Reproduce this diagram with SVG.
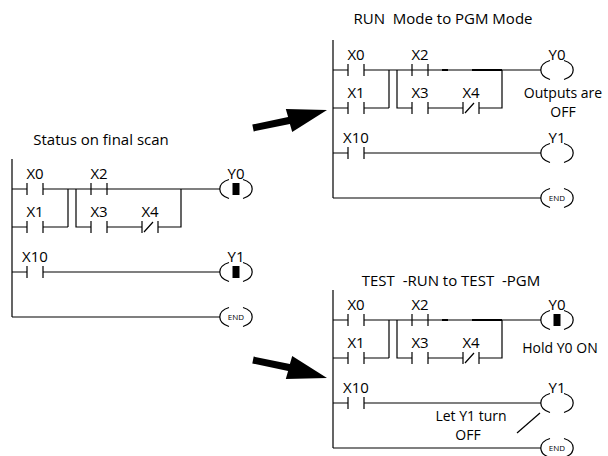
<svg xmlns="http://www.w3.org/2000/svg" width="608" height="456" viewBox="0 0 608 456">
<style>
.w{fill:none;stroke:#000;stroke-width:1.2}
.wd{fill:none;stroke:#000;stroke-width:2.2}
.t{font-family:"Open Sans","Noto Sans",sans-serif;font-size:15px;fill:#000;text-anchor:middle}
.n{font-family:"Open Sans","Noto Sans",sans-serif;font-size:14px;fill:#000;text-anchor:middle}
.e{font-family:"Open Sans","Noto Sans",sans-serif;font-size:8px;fill:#000;text-anchor:middle}
.ar{fill:#000}
</style>
<defs>
<path id="coil" class="w" d="M217 -9.5 A16 10.5 0 0 0 217 9.5 M231 -9.5 A16 10.5 0 0 1 231 9.5"/>
<rect id="on" x="220.5" y="-6" width="7" height="12" fill="#000"/>
</defs>
<rect width="608" height="456" fill="#fff"/>

<text class="t" x="101" y="145">Status on final scan</text>
<text class="t" x="443" y="24" xml:space="preserve">RUN  Mode to PGM Mode</text>
<text class="t" x="451" y="286" xml:space="preserve">TEST  -RUN to TEST  -PGM</text>

<!-- Left ladder -->
<g id="ladder-final" transform="translate(12,189)">
  <g id="L-wires">
    <path class="w" d="M0 -30 V128 M0 0 H15 M31 0 H208 M56 0 V38 M0 38 H15 M31 38 H56 M64 0 V38 H79 M95 38 H130 M146 38 H169 V0 M0 83 H15 M31 83 H208 M0 128 H208"/>
  </g>
  <g id="L-X0"><path class="w" d="M15 -6 V6 M31 -6 V6"/><text class="t" x="23" y="-10">X0</text></g>
  <g id="L-X1"><path class="w" d="M15 32 V44 M31 32 V44"/><text class="t" x="23" y="28">X1</text></g>
  <g id="L-X2"><path class="w" d="M79 -6 V6 M95 -6 V6"/><text class="t" x="87" y="-10">X2</text></g>
  <g id="L-X3"><path class="w" d="M79 32 V44 M95 32 V44"/><text class="t" x="87" y="28">X3</text></g>
  <g id="L-X4"><path class="w" d="M130 32 V44 M146 32 V44 M132 43 L141 33"/><text class="t" x="138" y="28">X4</text></g>
  <g id="L-X10"><path class="w" d="M15 77 V89 M31 77 V89"/><text class="t" x="23" y="73">X10</text></g>
  <g id="L-Y0"><use href="#coil"/><use href="#on"/><text class="t" x="224" y="-10">Y0</text></g>
  <g id="L-Y1"><use href="#coil" y="83"/><use href="#on" y="83"/><text class="t" x="224" y="73">Y1</text></g>
  <g id="L-END"><use href="#coil" y="128"/><text class="e" x="224" y="131">END</text></g>
</g>

<!-- Top-right ladder -->
<g id="ladder-run-pgm" transform="translate(333,70)">
  <g id="TR-wires">
    <path class="w" d="M0 -30 V128 M0 0 H15 M31 0 H208 M56 0 V38 M0 38 H15 M31 38 H56 M64 0 V38 H79 M95 38 H130 M146 38 H169 V0 M0 83 H15 M31 83 H208 M0 128 H208"/>
    <path class="wd" d="M109 0 H115 M139 0 H169"/>
  </g>
  <g id="TR-X0"><path class="w" d="M15 -6 V6 M31 -6 V6"/><text class="t" x="23" y="-10">X0</text></g>
  <g id="TR-X1"><path class="w" d="M15 32 V44 M31 32 V44"/><text class="t" x="23" y="28">X1</text></g>
  <g id="TR-X2"><path class="w" d="M79 -6 V6 M95 -6 V6"/><text class="t" x="87" y="-10">X2</text></g>
  <g id="TR-X3"><path class="w" d="M79 32 V44 M95 32 V44"/><text class="t" x="87" y="28">X3</text></g>
  <g id="TR-X4"><path class="w" d="M130 32 V44 M146 32 V44 M132 43 L141 33"/><text class="t" x="138" y="28">X4</text></g>
  <g id="TR-X10"><path class="w" d="M15 77 V89 M31 77 V89"/><text class="t" x="23" y="73">X10</text></g>
  <g id="TR-Y0"><use href="#coil"/><text class="t" x="224" y="-10">Y0</text></g>
  <g id="TR-Y1"><use href="#coil" y="83"/><text class="t" x="224" y="73">Y1</text></g>
  <g id="TR-END"><use href="#coil" y="128"/><text class="e" x="224" y="131">END</text></g>
</g>
<text class="n" x="563" y="98">Outputs are</text>
<text class="n" x="563" y="117">OFF</text>

<!-- Bottom-right ladder -->
<g id="ladder-test" transform="translate(333,320)">
  <g id="BR-wires">
    <path class="w" d="M0 -30 V128 M0 0 H15 M31 0 H208 M56 0 V38 M0 38 H15 M31 38 H56 M64 0 V38 H79 M95 38 H130 M146 38 H169 V0 M0 83 H15 M31 83 H208 M0 128 H208"/>
    <path class="wd" d="M109 0 H115 M139 0 H169"/>
  </g>
  <g id="BR-X0"><path class="w" d="M15 -6 V6 M31 -6 V6"/><text class="t" x="23" y="-10">X0</text></g>
  <g id="BR-X1"><path class="w" d="M15 32 V44 M31 32 V44"/><text class="t" x="23" y="28">X1</text></g>
  <g id="BR-X2"><path class="w" d="M79 -6 V6 M95 -6 V6"/><text class="t" x="87" y="-10">X2</text></g>
  <g id="BR-X3"><path class="w" d="M79 32 V44 M95 32 V44"/><text class="t" x="87" y="28">X3</text></g>
  <g id="BR-X4"><path class="w" d="M130 32 V44 M146 32 V44 M132 43 L141 33"/><text class="t" x="138" y="28">X4</text></g>
  <g id="BR-X10"><path class="w" d="M15 77 V89 M31 77 V89"/><text class="t" x="23" y="73">X10</text></g>
  <g id="BR-Y0"><use href="#coil"/><use href="#on"/><text class="t" x="224" y="-10">Y0</text></g>
  <g id="BR-Y1"><use href="#coil" y="83"/><text class="t" x="224" y="73">Y1</text></g>
  <g id="BR-END"><use href="#coil" y="128"/><text class="e" x="224" y="131">END</text></g>
</g>
<text class="n" x="560" y="353">Hold Y0 ON</text>
<text class="n" x="471" y="421">Let Y1 turn</text>
<text class="n" x="468" y="440">OFF</text>

<g id="connectors">
  <path class="w" d="M517 433 L540 413"/>
  <polygon class="ar" points="252.3,124.6 288.1,117.1 285.8,108.9 327,110 292.2,132.1 289.9,123.9 253.7,131.4"/>
  <polygon class="ar" points="252.3,363.4 288.1,370.9 285.8,379.1 327,378 292.2,355.9 289.9,364.1 253.7,356.6"/>
</g>
</svg>
